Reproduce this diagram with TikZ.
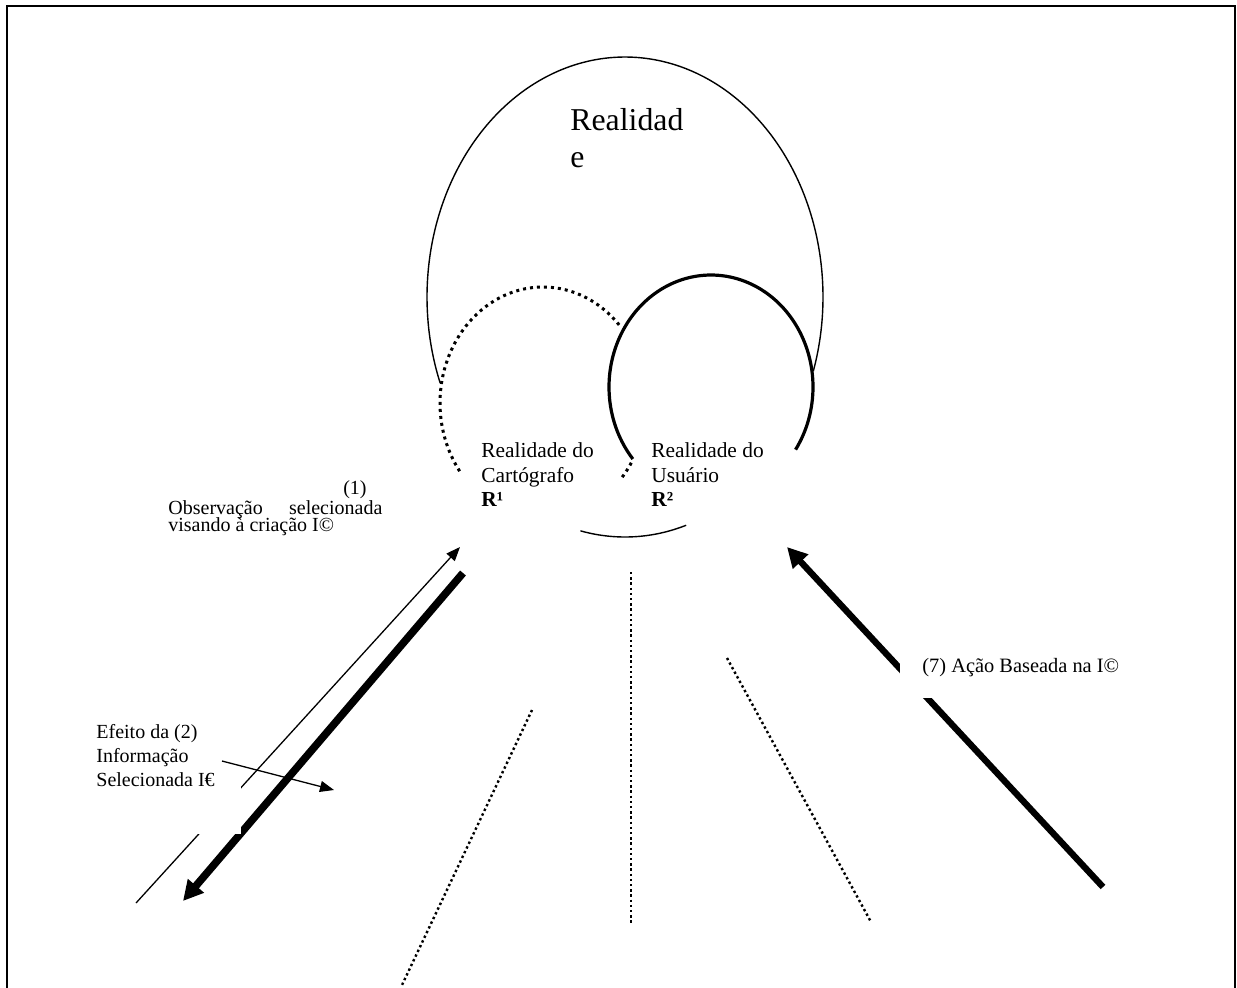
\documentclass[tikz,border=0pt]{standalone}
\usepackage{fontspec}
\setmainfont{Liberation Serif}
\usetikzlibrary{arrows.meta}
\begin{document}
\begin{tikzpicture}[x=0.5pt,y=-0.5pt,
  frame/.style={line width=1pt},
  bigarc/.style={line width=0.7pt},
  dotarc/.style={line width=1.5pt, dash pattern=on 1.5pt off 2pt},
  userarc/.style={line width=1.6pt},
  guide/.style={line width=1.2pt, dash pattern=on 1.2pt off 1.4pt},
  thinarrow/.style={line width=0.65pt, -{Triangle[length=7pt,width=5.5pt]}},
  thickarrow/.style={line width=3.8pt, -{Triangle[length=10pt,width=10pt]}},
  actarrow/.style={line width=3.2pt, -{Triangle[length=10pt,width=10pt]}},
  bigtext/.style={font=\fontsize{15.9}{18.5}\selectfont, inner sep=0pt},
  lbl/.style={font=\fontsize{10.7}{12.5}\selectfont, inner sep=0pt},
  side/.style={font=\fontsize{10}{12}\selectfont, inner sep=0pt},
  sevtext/.style={font=\fontsize{10.2}{12}\selectfont, inner sep=0pt}]
\useasboundingbox (0,0) rectangle (1237,987);
\clip (0,0) rectangle (1237,987);
% frame
\draw[frame] (7,1000) -- (7,6) -- (1235,6) -- (1235,1000);
% big ellipse (Realidade)
\draw[bigarc] plot[domain=-201:18, samples=120, smooth] ({625+198*cos(\x)},{297+240*sin(\x)});
\draw[bigarc] plot[domain=72:103, samples=20, smooth] ({625+198*cos(\x)},{297+240*sin(\x)});
% cartographer (dotted)
\draw[dotarc] plot[domain=-216:-42, samples=100, smooth] ({543+103*cos(\x)},{403+116*sin(\x)});
\draw[dotarc] plot[domain=31:41, samples=10, smooth] ({543+103*cos(\x)},{403+116*sin(\x)});
% user (thick)
\draw[userarc] plot[domain=-220:34, samples=120, smooth] ({711+102*cos(\x)},{387+112*sin(\x)});
% dotted guides
\coordinate (g1a) at (631,572); \coordinate (g1b) at (631,925);
\coordinate (g2a) at (532,710); \coordinate (g2b) at (402,985);
\coordinate (g3a) at (727,658); \coordinate (g3b) at (871,922);
\draw[guide] (g1a) -- (g1b);
\draw[guide] (g2a) -- (g2b);
\draw[guide] (g3a) -- (g3b);
% arrows
\coordinate (a1s) at (136,903); \coordinate (a1e) at (460,547);
\coordinate (a2s) at (463,573); \coordinate (a2e) at (183,901);
\coordinate (a7s) at (1103,887); \coordinate (a7e) at (787,547);
\draw[thinarrow] (a1s) -- (a1e);
\draw[thickarrow] (a2s) -- (a2e);
\draw[actarrow] (a7s) -- (a7e);
% white text boxes
\fill[white] (88,712) rectangle (241,834);
\fill[white] (900,648) rectangle (1140,698);
% texts
\node[bigtext, anchor=base west] (r1) at (570,130) {Realidad};
\node[bigtext, anchor=base west] (r2) at (570,167) {e};
\node[lbl, anchor=base west] (c1) at (481,457) {Realidade do};
\node[lbl, anchor=base west] (c2) at (481,482) {Cartógrafo};
\node[lbl, anchor=base west] (c3) at (481,506) {\textbf{R¹}};
\node[lbl, anchor=base west] (u1) at (651,457) {Realidade do};
\node[lbl, anchor=base west] (u2) at (651,482) {Usuário};
\node[lbl, anchor=base west] (u3) at (651,506) {\textbf{R²}};
\node[side, anchor=base east] (o1) at (367,494) {(1)};
\node[side, anchor=base west] (o2) at (168,514) {\hbox to 107pt{Observação\hfill selecionada}};
\node[side, anchor=base west] (o3) at (168,531) {visando à criação I©};
\node[side, anchor=base west] (e1) at (96,738) {Efeito da (2)};
\node[side, anchor=base west] (e2) at (96,762) {Informação};
\node[side, anchor=base west] (e3) at (96,786) {Selecionada I€};
\node[sevtext, anchor=base west] (s1) at (922,672) {(7) Ação Baseada na I©};
% effect arrow
\coordinate (hs) at (222,761); \coordinate (he) at (334,790);
\draw[thinarrow] (hs) -- (he);
\end{tikzpicture}
\end{document}
